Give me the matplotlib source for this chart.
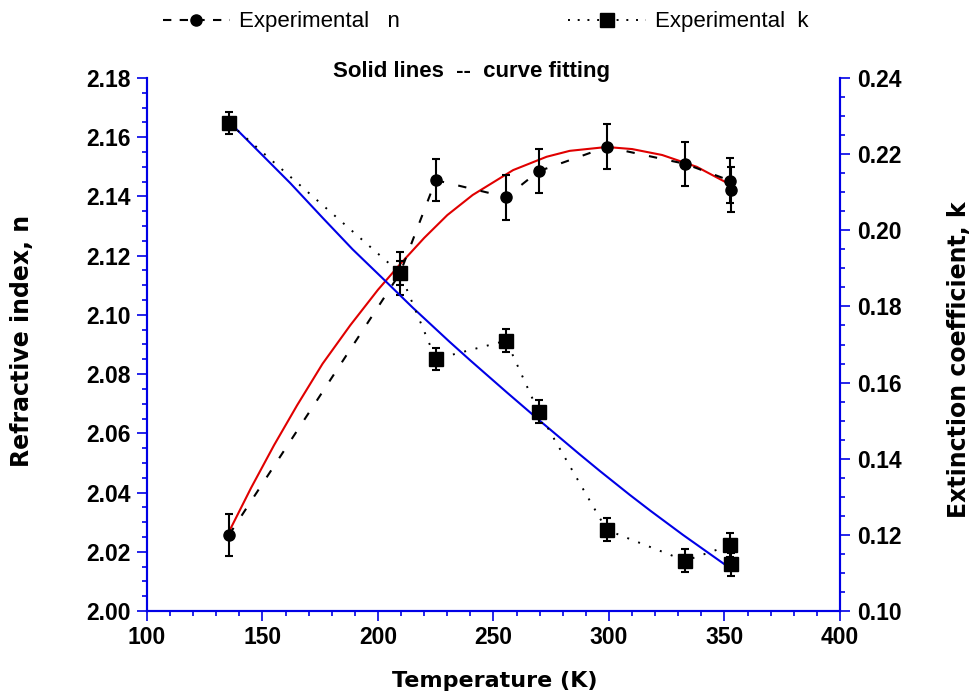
import matplotlib
matplotlib.use("Agg")
import matplotlib.pyplot as plt
from matplotlib.ticker import MultipleLocator, FormatStrFormatter

# experimental points
temp = [135.5, 209.5, 225, 255.5, 269.5, 299, 333, 352.5, 353]
n_exp = [2.0257, 2.1140, 2.1455, 2.1398, 2.1485, 2.1567, 2.1510, 2.1453, 2.1422]
n_err = [0.0072, 0.0073, 0.0072, 0.0076, 0.0075, 0.0076, 0.0075, 0.0076, 0.0076]
k_exp = [0.2282, 0.1888, 0.1662, 0.1710, 0.1523, 0.1213, 0.1132, 0.1173, 0.1123]
k_err = [0.0030, 0.0031, 0.0030, 0.0031, 0.0030, 0.0030, 0.0030, 0.0031, 0.0030]

# fitted curves (sampled from the figure)
fit_t_n = [135, 145, 155, 165, 176, 188, 200, 210, 220, 230, 241, 258.5, 273,
           283, 299, 310, 323, 338, 352.5]
fit_n = [2.026, 2.0415, 2.056, 2.0695, 2.0835, 2.0965, 2.1085, 2.1175, 2.126,
         2.1337, 2.1405, 2.1489, 2.1534, 2.1554, 2.1567, 2.156, 2.154, 2.150,
         2.144]
fit_t_k = [135.5, 150, 162, 176, 189, 203, 215, 231, 240, 256, 270, 287, 296,
           309, 318, 332, 352.5]
fit_k = [0.2285, 0.2197, 0.2124, 0.2033, 0.1950, 0.1868, 0.1797, 0.1707, 0.1658,
         0.1573, 0.1500, 0.1413, 0.1368, 0.1305, 0.1263, 0.1200, 0.1112]

plt.rcParams['font.family'] = ['Liberation Sans', 'DejaVu Sans']
plt.rcParams['font.weight'] = 'bold'
axis_blue = '#0000e6'

fig = plt.figure(figsize=(9.7, 6.94), dpi=100)
ax = fig.add_axes([147 / 970, 1 - 611 / 694, 693 / 970, 533 / 694])
ax2 = ax.twinx()

ax.plot(fit_t_n, fit_n, color='#e00000', lw=1.5, zorder=2)
ax.errorbar(temp, n_exp, yerr=n_err, fmt='o', color='black', ms=8,
            elinewidth=1.5, capsize=3, capthick=1.5, zorder=4)
ax.plot(temp, n_exp, color='black', lw=1.5, ls=(0, (4, 7)), zorder=3)

ax2.plot(fit_t_k, fit_k, color=axis_blue, lw=1.5, zorder=2)
ax2.errorbar(temp, k_exp, yerr=k_err, fmt='s', color='black', ms=10,
             elinewidth=1.5, capsize=3, capthick=1.5, zorder=4)
ax2.plot(temp, k_exp, color='black', lw=1.4, ls=(0, (1, 5)), zorder=3)

ax.set_xlim(100, 400)
ax.set_ylim(2.00, 2.18)
ax2.set_ylim(0.10, 0.24)

ax.xaxis.set_major_locator(MultipleLocator(50))
ax.xaxis.set_minor_locator(MultipleLocator(10))
ax.yaxis.set_major_locator(MultipleLocator(0.02))
ax.yaxis.set_minor_locator(MultipleLocator(0.005))
ax.yaxis.set_major_formatter(FormatStrFormatter('%.2f'))
ax2.yaxis.set_major_locator(MultipleLocator(0.02))
ax2.yaxis.set_minor_locator(MultipleLocator(0.005))
ax2.yaxis.set_major_formatter(FormatStrFormatter('%.2f'))

for a in (ax, ax2):
    a.spines['top'].set_visible(False)
    for s in ('left', 'right', 'bottom'):
        a.spines[s].set_color(axis_blue)
        a.spines[s].set_linewidth(1.5)
    a.tick_params(which='major', direction='out', length=7, width=1.2,
                  color=axis_blue, labelsize=16.5, pad=5)
    a.tick_params(which='minor', direction='out', length=3.5, width=1.2,
                  color=axis_blue)
ax.tick_params(axis='x', pad=4)

fig.text(495 / 970, 1 - 681 / 694, 'Temperature (K)', ha='center', va='center',
         family='DejaVu Sans', weight='bold', size=16)
fig.text(22 / 970, 1 - 341 / 694, 'Refractive index, n', ha='center', va='center',
         rotation=90, family='DejaVu Sans', weight='bold', size=17)
fig.text(959 / 970, 1 - 360 / 694, 'Extinction coefficient, k', ha='center',
         va='center', rotation=90, family='DejaVu Sans', weight='bold', size=17)
fig.text(472 / 970, 1 - 71 / 694, 'Solid lines  --  curve fitting', ha='center',
         va='center', weight='bold', size=16)

leg_font = {'family': ['Liberation Sans Narrow', 'Liberation Sans'],
            'weight': 'normal', 'size': 16}
h1, = ax.plot([], [], color='black', lw=1.5, ls=(0, (4, 4)), marker='o', ms=8)
h2, = ax.plot([], [], color='black', lw=1.4, ls=(0, (1, 4)), marker='s', ms=10)
fig.legend([h1], ['Experimental   n'], loc='center left',
           bbox_to_anchor=(163 / 970, 1 - 22 / 694), frameon=False, prop=leg_font,
           handlelength=3.0, handletextpad=0.4, borderpad=0, borderaxespad=0)
fig.legend([h2], ['Experimental  k'], loc='center left',
           bbox_to_anchor=(568 / 970, 1 - 22 / 694), frameon=False, prop=leg_font,
           handlelength=3.5, handletextpad=0.4, borderpad=0, borderaxespad=0)

fig.savefig('out.png', dpi=100)
